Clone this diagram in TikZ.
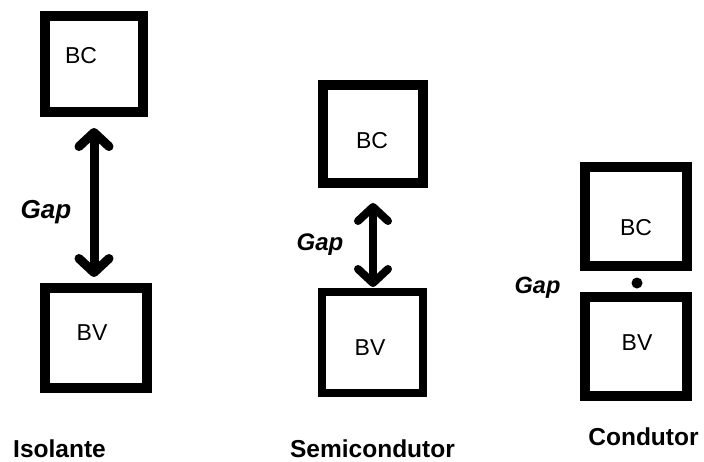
\documentclass[tikz,border=0pt]{standalone}
\usepackage{fontspec}
\setmainfont{Liberation Sans}
\usetikzlibrary{arrows.meta}
\begin{document}
\begin{tikzpicture}[x=1pt,y=-1pt,
  band/.style={draw=black, line width=10pt, inner sep=0pt},
  btxt/.style={font=\fontsize{23}{23}\selectfont, anchor=base, inner sep=0pt},
  gaptxt/.style={font=\bfseries\itshape\fontsize{#1}{#1}\selectfont, anchor=base, inner sep=0pt},
  ttl/.style={font=\bfseries\fontsize{24.5}{24.5}\selectfont, anchor=base, inner sep=0pt},
  gaparrow/.style={line width=#1, {Straight Barb[round,length=14pt,width=30pt]}-{Straight Barb[round,length=14pt,width=30pt]}}
]
\useasboundingbox (0,0) rectangle (704,461);
% Isolante
\node[band, minimum width=98pt, minimum height=96pt] (bc1) at (94,64) {};
\node[band, minimum width=102pt, minimum height=100pt] (bv1) at (96,338) {};
\node[btxt] (bc1t) at (81,63) {BC};
\node[btxt] (bv1t) at (92,340) {BV};
\draw[gaparrow=9pt, shorten <=11pt, shorten >=6pt] (bc1.south) -- (bc1.south |- bv1.north);
\node[gaptxt=26] (gap1) at (46,218) {Gap};
\node[ttl] (iso) at (59.5,457) {Isolante};
% Semicondutor
\node[band, minimum width=100pt, minimum height=98pt] (bc2) at (373,134) {};
\node[band, line width=8pt, minimum width=101pt, minimum height=101pt] (bv2) at (372.5,342.5) {};
\node[btxt] (bc2t) at (372,148) {BC};
\node[btxt] (bv2t) at (370,355) {BV};
\draw[gaparrow=8pt, shorten <=15pt, shorten >=1pt] (bc2.south) -- (bc2.south |- bv2.north);
\node[gaptxt=24] (gap2) at (320,250) {Gap};
\node[ttl] (semi) at (372.5,457) {Semicondutor};
% Condutor
\node[band, minimum width=102pt, minimum height=99pt] (bc3) at (636,216.5) {};
\node[band, minimum width=102pt, minimum height=99pt] (bv3) at (636,346.5) {};
\node[btxt] (bc3t) at (636,235) {BC};
\node[btxt] (bv3t) at (637,350) {BV};
\node[circle, fill=black, inner sep=0pt, minimum size=11pt] (dot) at (637,283) {};
\node[gaptxt=23.5] (gap3) at (537.5,293) {Gap};
\node[ttl] (cond) at (643.5,445) {Condutor};
\end{tikzpicture}
\end{document}
